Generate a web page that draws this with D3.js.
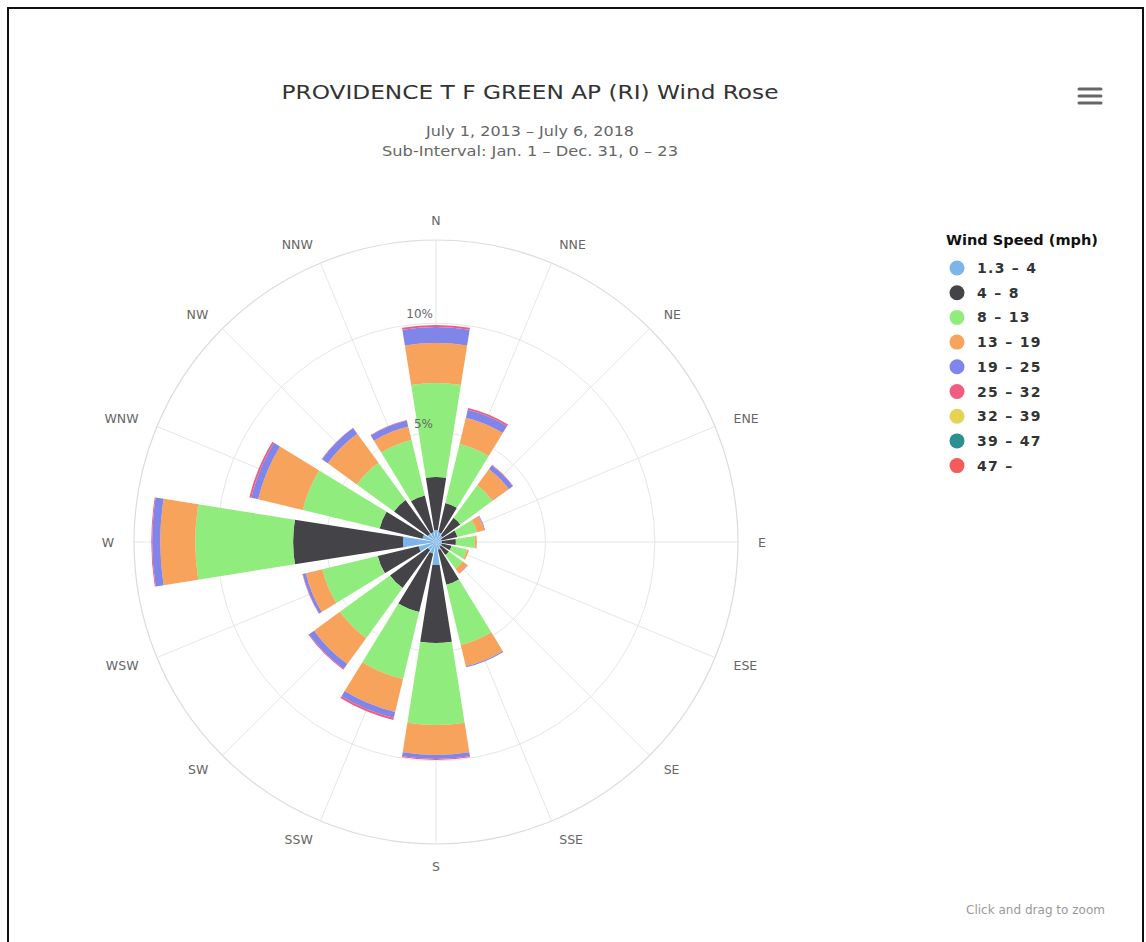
<!DOCTYPE html>
<html>
<head>
<meta charset="utf-8">
<script src="https://cdn.jsdelivr.net/npm/d3@7"></script>
<style>
  html, body { margin: 0; padding: 0; background: #fff; }
  svg { display: block; }
  text { font-family: "DejaVu Sans", "Open Sans", sans-serif; }
</style>
</head>
<body>
<svg id="chart" width="1146" height="942"></svg>
<script>
// ---------- data ----------
const directions = ["N","NNE","NE","ENE","E","ESE","SE","SSE","S","SSW","SW","WSW","W","WNW","NW","NNW"];
const speedBins = ["1.3 – 4","4 – 8","8 – 13","13 – 19","19 – 25","25 – 32","32 – 39","39 – 47","47 –"];
const binColors = ["#7cb5ec","#434348","#90ed7d","#f7a35c","#8085e9","#f15c80","#e4d354","#2b908f","#f45b5b"];
// percent of observations per direction, one array per speed bin
const s1_3_4   = [0.55,0.46,0.37,0.27,0.27,0.27,0.27,0.37,1.05,0.55,0.46,0.82,1.51,0.64,0.46,0.46];
const s4_8     = [2.42,1.37,1.00,0.73,0.64,0.46,0.46,1.64,3.56,2.74,2.14,1.92,5.02,2.01,1.91,1.73];
const s8_13    = [4.29,2.78,1.83,0.92,0.87,0.73,0.78,2.83,3.75,3.15,2.83,2.60,4.47,3.61,2.10,2.60];
const s13_19   = [1.83,1.23,0.91,0.36,0.09,0.09,0.27,1.00,1.37,1.55,1.46,0.78,1.60,2.10,1.65,0.64];
const s19_25   = [0.73,0.37,0.23,0.03,0.00,0.00,0.02,0.05,0.18,0.27,0.28,0.14,0.37,0.32,0.32,0.28];
const s25_32   = [0.09,0.09,0.02,0.00,0.00,0.00,0.00,0.00,0.05,0.10,0.04,0.02,0.04,0.09,0.02,0.02];
const s32_39   = [0,0,0,0,0,0,0,0,0,0,0,0,0,0,0,0];
const s39_47   = [0,0,0,0,0,0,0,0,0,0,0,0,0,0,0,0];
const s47_up   = [0,0,0,0,0,0,0,0,0,0,0,0,0,0,0,0];
const radialTicks = [5, 10];
const radialTickLabels = ["5%", "10%"];
const titleText = "PROVIDENCE T F GREEN AP (RI) Wind Rose";
const subtitleLines = ["July 1, 2013 – July 6, 2018", "Sub-Interval: Jan. 1 – Dec. 31, 0 – 23"];
const legendTitle = "Wind Speed (mph)";

// ---------- build table ----------
const seriesArrays = [s1_3_4, s4_8, s8_13, s13_19, s19_25, s25_32, s32_39, s39_47, s47_up];
const table = directions.map((d, i) => {
  const row = { dir: d };
  speedBins.forEach((b, j) => { row[b] = seriesArrays[j][i]; });
  return row;
});

// ---------- layout ----------
const svg = d3.select("#chart");
const cx = 436, cy = 542;
const outerR = 302;
const maxPct = 13.8;

// frame
svg.append("rect").attr("x", 8).attr("y", 8).attr("width", 1135).attr("height", 960)
  .attr("fill", "none").attr("stroke", "#111").attr("stroke-width", 2);

// title
svg.append("text").attr("x", 530).attr("y", 99).attr("text-anchor", "middle")
  .attr("font-size", 20).attr("fill", "#333")
  .attr("textLength", 497).attr("lengthAdjust", "spacingAndGlyphs").text(titleText);
const subLens = [208, 296];
subtitleLines.forEach((t, i) => {
  svg.append("text").attr("x", 530).attr("y", 136 + i * 20).attr("text-anchor", "middle")
    .attr("font-size", 13.5).attr("fill", "#666")
    .attr("textLength", subLens[i]).attr("lengthAdjust", "spacingAndGlyphs").text(t);
});

// menu icon
[89, 96, 103].forEach(y => {
  svg.append("line").attr("x1", 1079).attr("x2", 1101).attr("y1", y).attr("y2", y)
    .attr("stroke", "#666").attr("stroke-width", 3).attr("stroke-linecap", "round");
});

// scales
const r = d3.scaleLinear().domain([0, maxPct]).range([0, outerR]);
const step = 2 * Math.PI / directions.length;
const x = d3.scaleBand().domain(directions).range([-step / 2, 2 * Math.PI - step / 2]).paddingInner(0.2).paddingOuter(0.1);

const g = svg.append("g").attr("transform", `translate(${cx},${cy})`);

// grid: radial lines
directions.forEach((d, i) => {
  const a = i * step;
  g.append("line").attr("x1", 0).attr("y1", 0)
    .attr("x2", outerR * Math.sin(a)).attr("y2", -outerR * Math.cos(a))
    .attr("stroke", "#e6e6e6").attr("stroke-width", 1);
});
// grid circles
radialTicks.forEach(t => {
  g.append("circle").attr("r", r(t)).attr("fill", "none").attr("stroke", "#e6e6e6").attr("stroke-width", 1);
});
g.append("circle").attr("r", outerR).attr("fill", "none").attr("stroke", "#dcdcdc").attr("stroke-width", 1.2);

// stacked bars
const stack = d3.stack().keys(speedBins);
const layers = stack(table);
const arc = d3.arc();
layers.forEach((layer, j) => {
  g.append("g").selectAll("path").data(layer).join("path")
    .attr("d", d => {
      const a0 = x(d.data.dir), a1 = a0 + x.bandwidth();
      return arc({ innerRadius: r(d[0]), outerRadius: r(d[1]), startAngle: a0, endAngle: a1 });
    })
    .attr("fill", binColors[j]);
});

// direction labels
const labR = 322;
directions.forEach((d, i) => {
  const a = i * step;
  const px = labR * Math.sin(a), py = -labR * Math.cos(a);
  const s = Math.sin(a);
  const anchor = Math.abs(s) < 0.2 ? "middle" : (s > 0 ? "start" : "end");
  g.append("text").attr("x", px).attr("y", py + (i === 8 ? 2 : 0)).attr("text-anchor", anchor)
    .attr("dominant-baseline", "central").attr("font-size", 12.5).attr("fill", "#666").text(d);
});

// radial tick labels
radialTicks.forEach((t, i) => {
  g.append("text").attr("x", -3).attr("y", -r(t) - 5).attr("text-anchor", "end")
    .attr("font-size", 12).attr("fill", "#666").text(radialTickLabels[i]);
});

// legend
const lg = svg.append("g").attr("transform", "translate(946,0)");
lg.append("text").attr("x", 0).attr("y", 245).attr("font-size", 13.5).attr("font-weight", "bold")
  .attr("fill", "#111").attr("textLength", 152).attr("lengthAdjust", "spacingAndGlyphs").text(legendTitle);
speedBins.forEach((b, j) => {
  const yy = 268 + j * 24.7;
  lg.append("circle").attr("cx", 11).attr("cy", yy).attr("r", 7.5).attr("fill", binColors[j]);
  lg.append("text").attr("x", 31).attr("y", yy).attr("dominant-baseline", "central")
    .attr("font-size", 14).attr("font-weight", "bold").attr("letter-spacing", 1.3)
    .attr("fill", "#333").text(b);
});

// zoom hint
svg.append("text").attr("x", 1105).attr("y", 914).attr("text-anchor", "end")
  .attr("font-size", 11.5).attr("fill", "#999")
  .attr("textLength", 139).attr("lengthAdjust", "spacingAndGlyphs").text("Click and drag to zoom");
</script>
</body>
</html>
